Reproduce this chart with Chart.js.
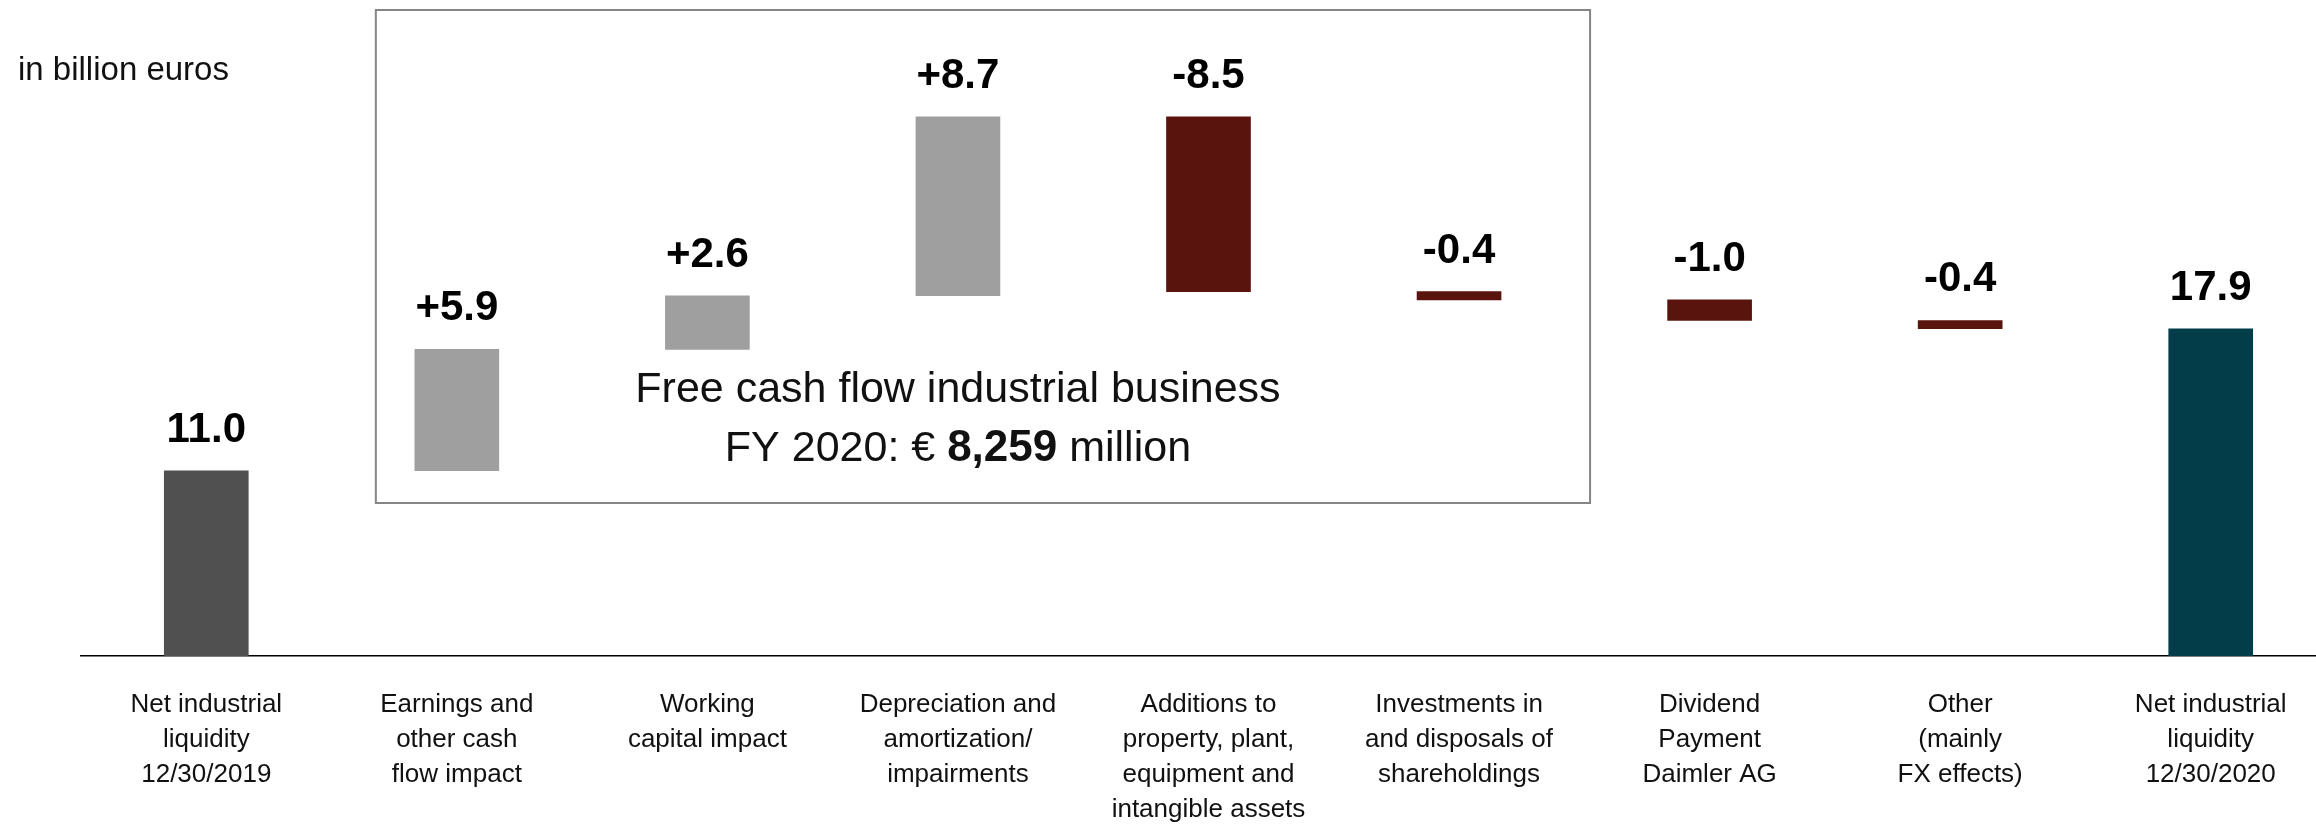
<!DOCTYPE html>
<html>
<head>
<meta charset="utf-8">
<script src="https://cdn.jsdelivr.net/npm/chart.js@4.4.0/dist/chart.umd.min.js"></script>
<style>
  html, body { margin: 0; padding: 0; background: #fff; overflow: hidden; }
  #wrap { width: 2336px; height: 825px; }
</style>
</head>
<body>
<div id="wrap"><canvas id="bridge" width="2336" height="825"></canvas></div>
<script>
// Net industrial liquidity bridge 2019 -> 2020 (billion euros)
const categories = [
    ['Net industrial', 'liquidity', '12/30/2019'],
    ['Earnings and', 'other cash', 'flow impact'],
    ['Working', 'capital impact'],
    ['Depreciation and', 'amortization/', 'impairments'],
    ['Additions to', 'property, plant,', 'equipment and', 'intangible assets'],
    ['Investments in', 'and disposals of', 'shareholdings'],
    ['Dividend', 'Payment', 'Daimler AG'],
    ['Other', '(mainly', 'FX effects)'],
    ['Net industrial', 'liquidity', '12/30/2020']
];
const startValue = 11.0;
const changes = [5.9, 2.6, 8.7, -8.5, -0.4, -1.0, -0.4];
const endValue = 17.9;

const FONT = '"Liberation Sans", Arial, sans-serif';

// build floating bars for the waterfall
const ranges = [[0, startValue]];
const labels = [startValue.toFixed(1)];
const colors = ['#505050'];
let running = startValue;
changes.forEach(v => {
    ranges.push([running, running + v]);
    running += v;
    labels.push((v > 0 ? '+' : '') + v.toFixed(1));
    colors.push(v > 0 ? '#9f9f9f' : '#5a140e');
});
ranges.push([0, endValue]);
labels.push(endValue.toFixed(1));
colors.push('#033d4a');

const extras = {
    id: 'extras',
    beforeDatasetsDraw(chart) {
        const c = chart.ctx;
        const x = chart.scales.x;
        // framed box around the free cash flow items
        const left = x.getPixelForValue(1) - 81;
        const right = x.getPixelForValue(5) + 131;
        c.save();
        c.strokeStyle = '#858585';
        c.lineWidth = 2;
        c.strokeRect(left, 10, right - left, 493);

        const cx = x.getPixelForValue(3);
        c.fillStyle = '#111';
        c.textAlign = 'center';
        c.textBaseline = 'alphabetic';
        c.font = '43px ' + FONT;
        c.fillText('Free cash flow industrial business', cx, 402);

        // second line mixes regular and bold
        const parts = [['FY 2020: € ', '43px '], ['8,259', 'bold 44px '], [' million', '43px ']];
        let total = 0;
        parts.forEach(p => { c.font = p[1] + FONT; total += c.measureText(p[0]).width; });
        let px = cx - total / 2;
        c.textAlign = 'left';
        parts.forEach(p => {
            c.font = p[1] + FONT;
            c.fillText(p[0], px, 461);
            px += c.measureText(p[0]).width;
        });

        c.font = '33px ' + FONT;
        c.fillText('in billion euros', 18, 80);
        c.restore();
    },
    afterDatasetsDraw(chart) {
        const c = chart.ctx;
        c.save();
        c.fillStyle = '#000';
        c.font = 'bold 42px ' + FONT;
        c.textAlign = 'center';
        c.textBaseline = 'alphabetic';
        chart.getDatasetMeta(0).data.forEach((bar, i) => {
            const top = Math.min(bar.y, bar.base);
            c.fillText(labels[i], bar.x, top - 29);
        });
        c.restore();
    }
};

new Chart(document.getElementById('bridge'), {
    type: 'bar',
    data: {
        labels: categories,
        datasets: [{
            data: ranges,
            backgroundColor: colors,
            borderWidth: 0,
            barThickness: 84
        }]
    },
    options: {
        responsive: false,
        animation: false,
        layout: { padding: { left: 81, right: 0, top: 0, bottom: 0 } },
        plugins: {
            legend: { display: false },
            tooltip: { enabled: false }
        },
        scales: {
            x: {
                grid: { display: false, drawTicks: false },
                border: { display: true, color: '#000', width: 1.5 },
                ticks: {
                    color: '#111',
                    font: { family: FONT, size: 26, lineHeight: 1.35 },
                    padding: 31,
                    maxRotation: 0,
                    autoSkip: false
                },
                afterFit(scale) { scale.height = 169; }
            },
            y: {
                display: false,
                min: 2,
                max: 33.87
            }
        }
    },
    plugins: [extras]
});
</script>
</body>
</html>
